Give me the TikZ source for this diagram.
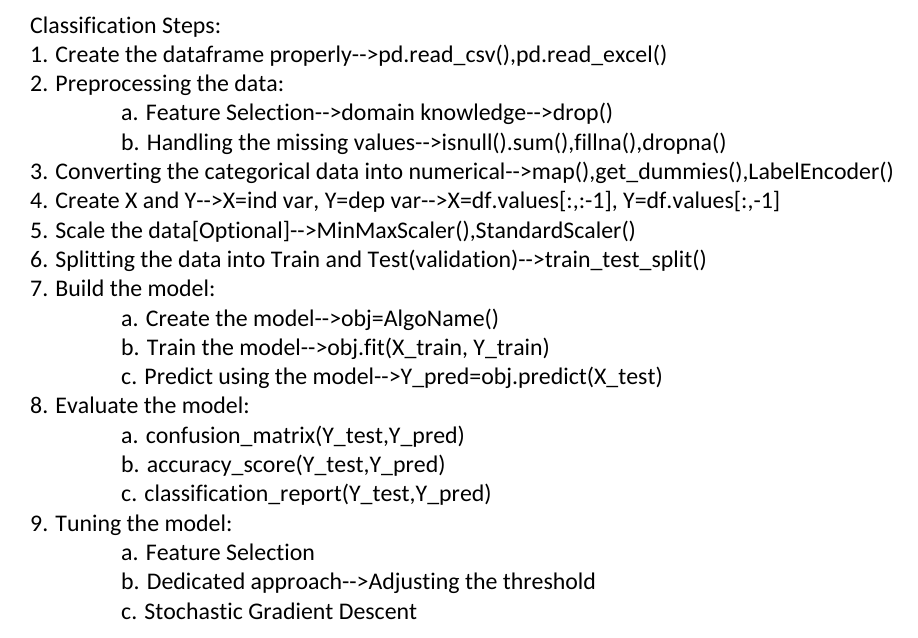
\documentclass[tikz,border=0pt]{standalone}
\usepackage{fontspec}
\setmainfont{Carlito}[Ligatures={TeXOff,CommonOff}, Kerning=Off]
\usepackage{tikz}
\usetikzlibrary{positioning}

\begin{document}
\begin{tikzpicture}[x=1pt, y=-1pt]
\tikzstyle{every node}=[anchor=base west, inner sep=0pt, font=\fontsize{23.85}{28}\selectfont];
\useasboundingbox (0,0) rectangle (918,637);
\node (title) at (30,33) {Classification Steps:};
\node (s1) at (30,62.3) {1. Create the dataframe properly-->pd.read\_csv(),pd.read\_excel()};
\node (s2) at (30,91.6) {2. Preprocessing the data:};
\node (s2a) at (121,120.9) {a. Feature Selection-->domain knowledge-->drop()};
\node (s2b) at (121,150.2) {b. Handling the missing values-->isnull().sum(),fillna(),dropna()};
\node (s3) at (30,179.5) {3. Converting the categorical data into numerical-->map(),get\_dummies(),LabelEncoder()};
\node (s4) at (30,208.8) {4. Create X and Y-->X=ind var, Y=dep var-->X=df.values[:,:-1], Y=df.values[:,-1]};
\node (s5) at (30,238.1) {5. Scale the data[Optional]-->MinMaxScaler(),StandardScaler()};
\node (s6) at (30,267.4) {6. Splitting the data into Train and Test(validation)-->train\_test\_split()};
\node (s7) at (30,296.7) {7. Build the model:};
\node (s7a) at (121,326) {a. Create the model-->obj=AlgoName()};
\node (s7b) at (121,355.3) {b. Train the model-->obj.fit(X\_train, Y\_train)};
\node (s7c) at (121,384.6) {c. Predict using the model-->Y\_pred=obj.predict(X\_test)};
\node (s8) at (30,413.9) {8. Evaluate the model:};
\node (s8a) at (121,443.2) {a. confusion\_matrix(Y\_test,Y\_pred)};
\node (s8b) at (121,472.5) {b. accuracy\_score(Y\_test,Y\_pred)};
\node (s8c) at (121,501.8) {c. classification\_report(Y\_test,Y\_pred)};
\node (s9) at (30,531.1) {9. Tuning the model:};
\node (s9a) at (121,560.4) {a. Feature Selection};
\node (s9b) at (121,589.7) {b. Dedicated approach-->Adjusting the threshold};
\node (s9c) at (121,619) {c. Stochastic Gradient Descent};
\end{tikzpicture}
\end{document}
